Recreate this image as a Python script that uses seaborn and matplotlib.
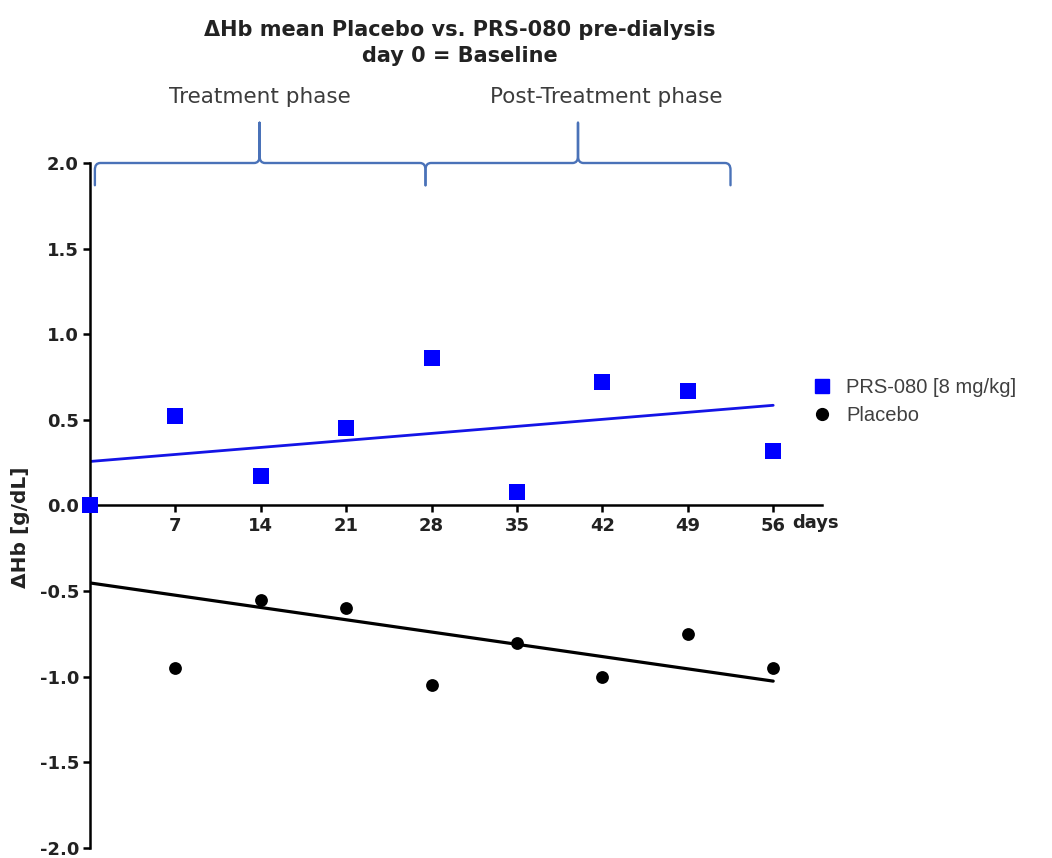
import numpy as np
import pandas as pd
import seaborn as sns
import matplotlib
matplotlib.use("Agg")
import matplotlib.pyplot as plt
from matplotlib.path import Path
from matplotlib.patches import PathPatch
from matplotlib.lines import Line2D

# ---- data ----
days = [0, 7, 14, 21, 28, 35, 42, 49, 56]
prs080 = [0.0, 0.52, 0.17, 0.45, 0.86, 0.08, 0.72, 0.67, 0.32]
placebo = [0.0, -0.95, -0.55, -0.60, -1.05, -0.80, -1.00, -0.75, -0.95]
xticks = [7, 14, 21, 28, 35, 42, 49, 56]
yticks = [-2.0, -1.5, -1.0, -0.5, 0.0, 0.5, 1.0, 1.5, 2.0]
series_names = ["PRS-080 [8 mg/kg]", "Placebo"]
title_text = "\u0394Hb mean Placebo vs. PRS-080 pre-dialysis\nday 0 = Baseline"
phase_names = ["Treatment phase", "Post-Treatment phase"]

sns.set_style("white")
NORM = ["Liberation Sans", "DejaVu Sans"]
plt.rcParams["font.family"] = ["DejaVu Sans"]

fig = plt.figure(figsize=(10.52, 8.58), dpi=100)
ax = fig.add_axes([90 / 1052, 1 - 848 / 858, 732 / 1052, 685 / 858])

df_p = pd.DataFrame({"day": days, "dhb": placebo})
df_r = pd.DataFrame({"day": days, "dhb": prs080})

sns.regplot(data=df_p, x="day", y="dhb", ax=ax, ci=None, color="black",
            marker="o", scatter_kws=dict(s=85, linewidths=0, alpha=1, zorder=3, clip_on=False),
            line_kws=dict(lw=2.3, color="black", zorder=2))
sns.regplot(data=df_r, x="day", y="dhb", ax=ax, ci=None, color="#0000ff",
            marker="s", scatter_kws=dict(s=120, linewidths=0, alpha=1, zorder=4, clip_on=False),
            line_kws=dict(lw=2.0, color="#1414e6", zorder=2))

ax.set_xlim(0, 60)
ax.set_ylim(-2, 2)
ax.spines["top"].set_visible(False)
ax.spines["right"].set_visible(False)
ax.spines["bottom"].set_position(("data", 0))
for s in ("left", "bottom"):
    ax.spines[s].set_linewidth(1.8)
    ax.spines[s].set_color("black")
ax.set_xticks(xticks)
ax.set_xticklabels([str(t) for t in xticks])
ax.set_yticks(yticks)
ax.set_yticklabels([f"{t:.1f}" for t in yticks])
ax.tick_params(axis="both", direction="out", length=5, width=1.8, colors="black",
               labelsize=13, labelcolor="#222222", pad=3, left=True, bottom=True)
for lab in ax.get_xticklabels() + ax.get_yticklabels():
    lab.set_fontweight("bold")
ax.set_xlabel("")
ax.set_ylabel("\u0394Hb [g/dL]", fontsize=14.5, fontweight="bold", color="#222222")
ax.yaxis.set_label_coords(-0.082, 0.468)

ax.annotate("days", xy=(56, 0), xytext=(14, -6), textcoords="offset points",
            ha="left", va="top", fontsize=13, fontweight="bold", color="#222222")

# title
fig.text(460 / 1052, 1 - 20 / 858, title_text, ha="center", va="top",
         fontsize=15, fontweight="bold", color="#222222", linespacing=1.35)

# braces
def brace(x0, x1, xm, y_line=2.0, y_end=1.87, y_peak=2.235, rx=0.45, ry=0.04):
    verts = [(x0, y_end), (x0, y_line - ry), (x0, y_line), (x0 + rx, y_line),
             (xm - rx, y_line), (xm, y_line), (xm, y_line + ry), (xm, y_peak),
             (xm, y_line + ry), (xm, y_line), (xm + rx, y_line),
             (x1 - rx, y_line), (x1, y_line), (x1, y_line - ry), (x1, y_end)]
    codes = [Path.MOVETO, Path.LINETO, Path.CURVE3, Path.CURVE3,
             Path.LINETO, Path.CURVE3, Path.CURVE3, Path.LINETO,
             Path.LINETO, Path.CURVE3, Path.CURVE3,
             Path.LINETO, Path.CURVE3, Path.CURVE3, Path.LINETO]
    p = PathPatch(Path(verts, codes), fill=False, edgecolor="#4a72b8", lw=1.7,
                  transform=ax.transData, clip_on=False, capstyle="round", joinstyle="round")
    ax.add_patch(p)

brace(0.4, 27.5, 13.9)
brace(27.5, 52.5, 40.0)
ax.text(13.9, 2.385, phase_names[0], ha="center", va="center", fontsize=15.5,
        color="#3c3c3c", clip_on=False)
ax.text(42.3, 2.385, phase_names[1], ha="center", va="center", fontsize=15.5,
        color="#3c3c3c", clip_on=False)

handles = [Line2D([], [], marker="s", ls="none", color="#0000ff", markersize=10),
           Line2D([], [], marker="o", ls="none", color="black", markersize=8.5)]
leg = ax.legend(handles, series_names, loc="upper left", bbox_to_anchor=(0.948, 0.713),
                frameon=False, handletextpad=0.2, labelspacing=0.45,
                prop=dict(family=NORM, size=14.5))
for t in leg.get_texts():
    t.set_color("#404040")

fig.savefig("out.png", dpi=100)
